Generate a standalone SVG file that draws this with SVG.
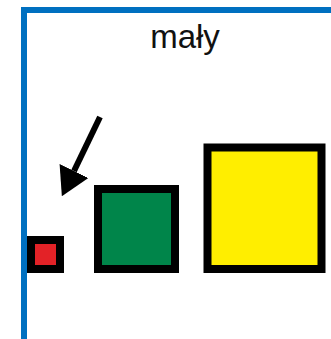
<svg xmlns="http://www.w3.org/2000/svg" width="331" height="339" viewBox="0 0 331 339">
<style>
.frame{fill:none;stroke:#0070c0;stroke-width:6}
.box{stroke:#000;stroke-width:8}
.lbl{font-family:"Liberation Sans",Arial,sans-serif;font-size:33px;fill:#111;text-anchor:middle}
.conn{stroke:#000;stroke-width:6;fill:none}
</style>
<defs>
<marker id="head" markerUnits="userSpaceOnUse" viewBox="0 -16 28 32" refX="0" refY="0" markerWidth="28" markerHeight="32" orient="auto">
<path d="M0,-16 L28,0 L0,16 z" fill="#000"/>
</marker>
</defs>
<rect width="331" height="339" fill="#fff"/>
<path class="frame" d="M24,339 V10 H331"/>
<text class="lbl" x="185" y="48">mały</text>
<g id="connectors">
<line class="conn" x1="100" y1="117" x2="74" y2="171" marker-end="url(#head)"/>
</g>
<g id="small">
<rect class="box" x="31" y="240" width="29" height="29" fill="#e32227"/>
</g>
<g id="medium">
<rect class="box" x="98" y="189" width="77" height="80" fill="#00854a"/>
</g>
<g id="large">
<rect class="box" x="207.5" y="147.5" width="114" height="121.5" stroke-width="9" fill="#ffee00"/>
</g>
</svg>
